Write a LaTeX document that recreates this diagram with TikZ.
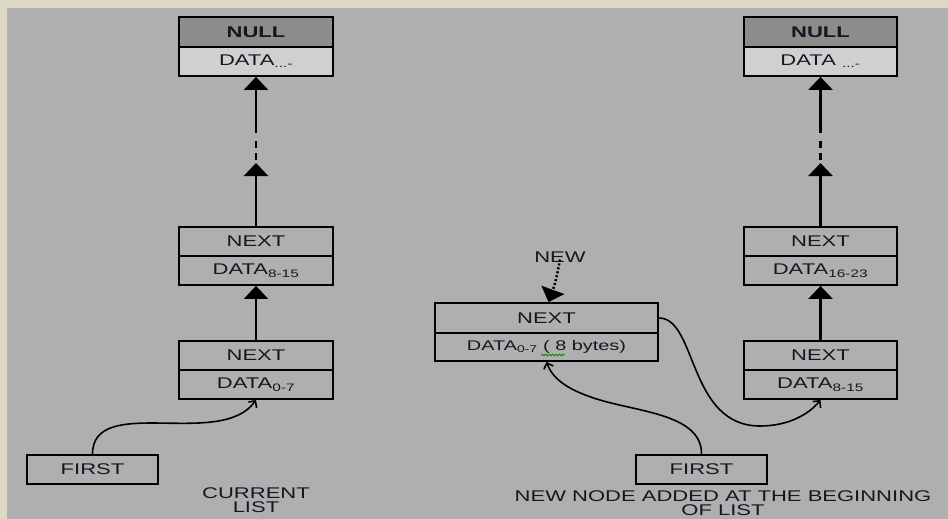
\documentclass[tikz,border=0pt]{standalone}
\usepackage{fontspec}
\newfontfamily\lbl[FakeStretch=1.42]{Liberation Sans}
\usetikzlibrary{arrows.meta,decorations.pathmorphing,calc}
\definecolor{framec}{RGB}{221,216,196}
\definecolor{bgc}{RGB}{175,175,175}
\definecolor{hdrc}{RGB}{140,140,140}
\definecolor{litec}{RGB}{208,208,208}
\definecolor{inkc}{RGB}{25,20,35}
\begin{document}
\begin{tikzpicture}[x=1pt,y=-1pt,
  cell/.style={draw=black, line width=1.8pt, minimum height=29pt, inner sep=0pt,
    text=inkc, font={\lbl\fontsize{15.5}{14}\selectfont}},
  lcell/.style={cell, minimum width=154pt},
  rcell/.style={cell, minimum width=153pt},
  ncell/.style={cell, minimum width=223pt},
  nullc/.style={fill=hdrc, font={\lbl\bfseries\fontsize{15.5}{14}\selectfont}},
  topdata/.style={fill=litec},
  caption/.style={text=inkc, align=center, inner sep=0pt, font={\lbl\fontsize{15.5}{14.5}\selectfont}},
  varr/.style={line width=2.5pt, -{Triangle[width=24pt,length=13pt]}},
  vline/.style={line width=2.5pt},
  carr/.style={line width=1.6pt, -{Straight Barb[length=5pt,width=10pt,line width=1.6pt]}},
  darr/.style={line width=2.5pt, dash pattern=on 2pt off 2pt, -{Triangle[width=24pt,length=13pt]}}
]
\useasboundingbox (0,0) rectangle (948,519);
\fill[framec] (0,0) rectangle (948,519);
\fill[bgc] (7,8) rectangle (948,519);

% ---------- left: current list ----------
\node[lcell, nullc, minimum height=30pt] (lnull) at (256,32) {NULL};
\node[lcell, topdata] (ldtop) at (256,61.5) {DATA\textsubscript{...-}};
\node[lcell] (l2n) at (256,241.5) {NEXT};
\node[lcell] (l2d) at (256,270.5) {DATA\textsubscript{8-15}};
\node[lcell] (l1n) at (256,355.5) {NEXT};
\node[lcell] (l1d) at (256,384.5) {DATA\textsubscript{0-7}};
\node[cell, minimum width=131pt] (lfirst) at (92.5,469.5) {FIRST};
\node[caption] (lcap) at (256,500) {CURRENT\\LIST};

\coordinate (lg1) at (256,163);
\coordinate (lg2) at (256,133);
\draw[varr] (l1n.north) -- (l2d.south);
\draw[varr] (l2n.north) -- (lg1);
\draw[vline] (256,160) -- (256,153) (256,148) -- (256,141);
\draw[varr] (lg2) -- (ldtop.south);
\draw[carr] (lfirst.north) to[out=90,in=-125,looseness=0.9] (l1d.south);

% ---------- right: new node added ----------
\node[rcell, nullc, minimum height=30pt] (rnull) at (820.5,32) {NULL};
\node[rcell, topdata] (rdtop) at (820.5,61.5) {DATA \textsubscript{...-}};
\node[rcell] (r2n) at (820.5,241.5) {NEXT};
\node[rcell] (r2d) at (820.5,270.5) {DATA\textsubscript{16-23}};
\node[rcell] (r1n) at (820.5,355.5) {NEXT};
\node[rcell] (r1d) at (820.5,384.5) {DATA\textsubscript{8-15}};

\node[ncell, minimum height=30pt] (newn) at (546.5,318) {NEXT};
\node[ncell, minimum height=28pt, font={\lbl\fontsize{14}{14}\selectfont}] (newd) at (546.5,347) {DATA\textsubscript{0-7} ( 8 bytes)};
\node[cell, minimum width=131pt] (rfirst) at (701.5,469.5) {FIRST};
\node[caption] (rcap) at (723,503) {NEW NODE ADDED AT THE BEGINNING\\OF LIST};
\node[caption] (newlbl) at (560,257) {NEW};

\draw[green!55!black, line width=0.8pt, decorate, decoration={snake, amplitude=0.9pt, segment length=3.5pt}] (541,355) -- (565,355);

\coordinate (rg1) at (820.5,163);
\coordinate (rg2) at (820.5,133);
\draw[varr] (r1n.north) -- (r2d.south);
\draw[varr] (r2n.north) -- (rg1);
\draw[vline] (820.5,160) -- (820.5,153) (820.5,148) -- (820.5,141);
\draw[varr] (rg2) -- (rdtop.south);

\draw[darr] ([yshift=3pt]newlbl.south) to[out=-100,in=70] ([xshift=2pt]newn.north);
\draw[carr] (newn.east) .. controls (697,318) and (688,426) .. (760,426)
  .. controls (790,426) and (810,413) .. (r1d.south);
\draw[carr] (rfirst.north) .. controls (702,415) and (640,412) .. (600,400)
  .. controls (570,391) and (553,380) .. (newd.south);
\end{tikzpicture}
\end{document}
